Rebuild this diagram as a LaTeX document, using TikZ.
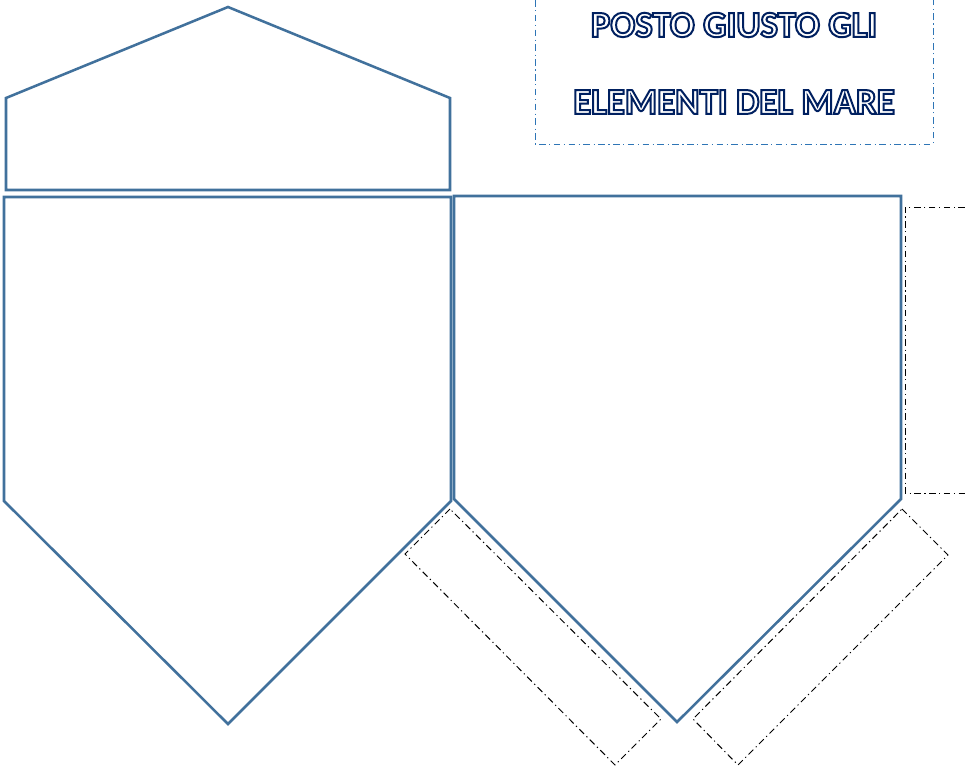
\documentclass[tikz,border=0pt]{standalone}
\usepackage{fontspec}
\setmainfont{Carlito}
\definecolor{shapeblue}{HTML}{41719C}
\definecolor{frameblue}{HTML}{2E75B6}
\newcommand{\outlinedtext}[1]{\special{pdf:code q 2 Tr 1.5 w 0 0.125 0.376 RG 1 1 1 rg}#1\special{pdf:code Q}}
\tikzset{
  housing/.style={draw=shapeblue,line width=1.9pt,line join=miter},
  cutline/.style={draw=black,line width=0.75pt,dash pattern=on 5pt off 2.6pt on 0.9pt off 2.6pt},
  titleframe/.style={draw=frameblue,line width=0.75pt,dash pattern=on 5pt off 2.6pt on 0.9pt off 2.6pt},
  titletext/.style={inner sep=0pt,font=\bfseries\fontsize{27.7}{32}\selectfont,text=black}
}
\begin{document}
\begin{tikzpicture}[x=0.75pt,y=-0.75pt]
\useasboundingbox (0,0) rectangle (965,771);
\fill[white] (0,0) rectangle (965,771);
% blue shapes
\draw[housing] (6,190) -- (6,98) -- (228,7) -- (450,98) -- (450,190) -- cycle;
\draw[housing] (4,197) -- (451,197) -- (451,501) -- (228,724) -- (4,501) -- cycle;
\draw[housing] (454,196) -- (901,196) -- (901,499) -- (677,722) -- (454,499) -- cycle;
% dash-dotted guides
\draw[titleframe] (535,0) -- (535,144) -- (933,144) -- (933,0);
\draw[cutline] (965,207) -- (905,207) -- (905,493) -- (965,493);
\draw[cutline] (450,509) -- (405,554) -- (615,765) -- (661,719) -- cycle;
\draw[cutline] (902,509) -- (948,555) -- (738,765) -- (693,719) -- cycle;
% title
\node[titletext] (line1) at (734,25) {\outlinedtext{POSTO GIUSTO GLI}};
\node[titletext] (line2) at (734,102) {\outlinedtext{ELEMENTI DEL MARE}};
\end{tikzpicture}
\end{document}
